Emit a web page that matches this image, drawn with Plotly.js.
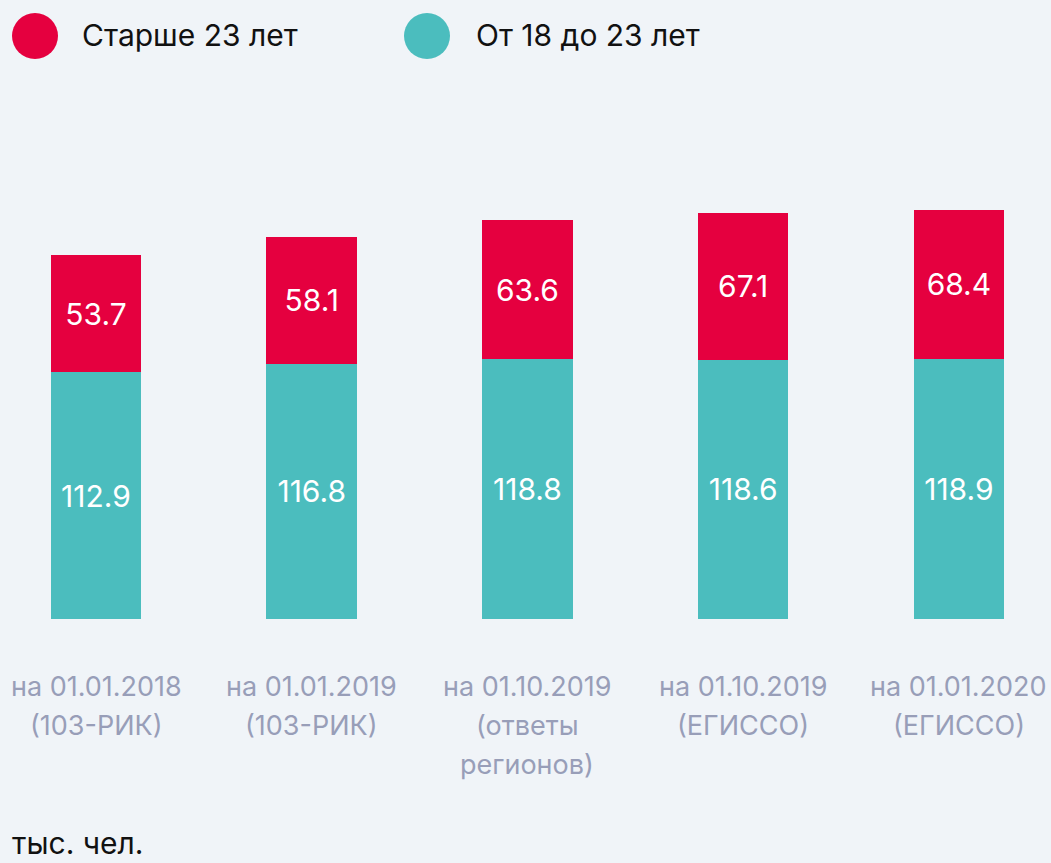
<!DOCTYPE html>
<html>
<head>
<meta charset="utf-8">
<script src="https://cdn.plot.ly/plotly-3.0.1.min.js"></script>
<style>html,body{margin:0;padding:0;background:#f0f4f8;}</style>
</head>
<body>
<div id="chart" style="width:1051px;height:863px;"></div>
<script>
// Data
const categories = [
  "на 01.01.2018\n(103-РИК)",
  "на 01.01.2019\n(103-РИК)",
  "на 01.10.2019\n(ответы\nрегионов)",
  "на 01.10.2019\n(ЕГИССО)",
  "на 01.01.2020\n(ЕГИССО)"
];
const youngName = "От 18 до 23 лет";
const oldName = "Старше 23 лет";
const youngValues = [112.9, 116.8, 118.8, 118.6, 118.9];
const oldValues = [53.7, 58.1, 63.6, 67.1, 68.4];
const unitLabel = "тыс. чел.";

// Style
const RED = "#e5003f";
const TEAL = "#4bbdbe";
const BG = "#f0f4f8";
const GRAY = "#989eb8";
const FONT = "Inter, Roboto, sans-serif";
const W = 1051, H = 863;
const plotBottom = 619, plotHeight = 436;
const mTop = plotBottom - plotHeight, mBottom = H - plotBottom;

const traces = [
  {
    type: "bar", name: youngName, x: categories, y: youngValues,
    marker: {color: TEAL},
    text: youngValues.map(v => v.toFixed(1)), textposition: "inside",
    insidetextanchor: "middle", constraintext: "none",
    textfont: {color: "#ffffff", size: 30, family: FONT},
    hoverinfo: "skip", showlegend: false
  },
  {
    type: "bar", name: oldName, x: categories, y: oldValues,
    marker: {color: RED},
    text: oldValues.map(v => v.toFixed(1)), textposition: "inside",
    insidetextanchor: "middle", constraintext: "none",
    textfont: {color: "#ffffff", size: 30, family: FONT},
    hoverinfo: "skip", showlegend: false
  }
];

const annotations = [];
const lineGap = 39;
categories.forEach(c => {
  c.split("\n").forEach((line, i) => {
    annotations.push({
      x: c, xref: "x", y: 0, yref: "paper", yanchor: "middle", xanchor: "center",
      yshift: -(686 - plotBottom) - i * lineGap,
      text: line, showarrow: false,
      font: {family: FONT, size: 27, color: GRAY}
    });
  });
});

function py(pix) { return (plotBottom - pix) / plotHeight; }

const legendItems = [
  {name: oldName, color: RED, cx: 35, tx: 80},
  {name: youngName, color: TEAL, cx: 427, tx: 474}
];
const shapes = [];
legendItems.forEach(it => {
  shapes.push({
    type: "circle", xref: "paper", yref: "paper",
    xsizemode: "pixel", ysizemode: "pixel",
    xanchor: it.cx / W, yanchor: py(36),
    x0: -23, x1: 23, y0: -23, y1: 23,
    fillcolor: it.color, line: {width: 0}
  });
  annotations.push({
    x: it.tx / W, xref: "paper", y: py(35), yref: "paper",
    xanchor: "left", yanchor: "middle", text: it.name, showarrow: false,
    font: {family: FONT, size: 30, color: "#111111"}
  });
});

annotations.push({
  x: 10 / W, xref: "paper", y: py(843), yref: "paper",
  xanchor: "left", yanchor: "middle", text: unitLabel, showarrow: false,
  font: {family: FONT, size: 30, color: "#111111"}
});

const layout = {
  width: W, height: H,
  paper_bgcolor: BG, plot_bgcolor: BG,
  margin: {l: 0, r: 0, t: mTop, b: mBottom, pad: 0},
  barmode: "stack", bargap: 0.58,
  showlegend: false,
  xaxis: {
    type: "category", range: [-0.445, 4.427],
    showticklabels: false, showgrid: false, zeroline: false, showline: false, ticks: ""
  },
  yaxis: {
    range: [0, 199.5], visible: false, showgrid: false, zeroline: false
  },
  annotations: annotations,
  shapes: shapes,
  font: {family: FONT}
};

Plotly.newPlot("chart", traces, layout, {staticPlot: true, displayModeBar: false});
</script>
</body>
</html>
